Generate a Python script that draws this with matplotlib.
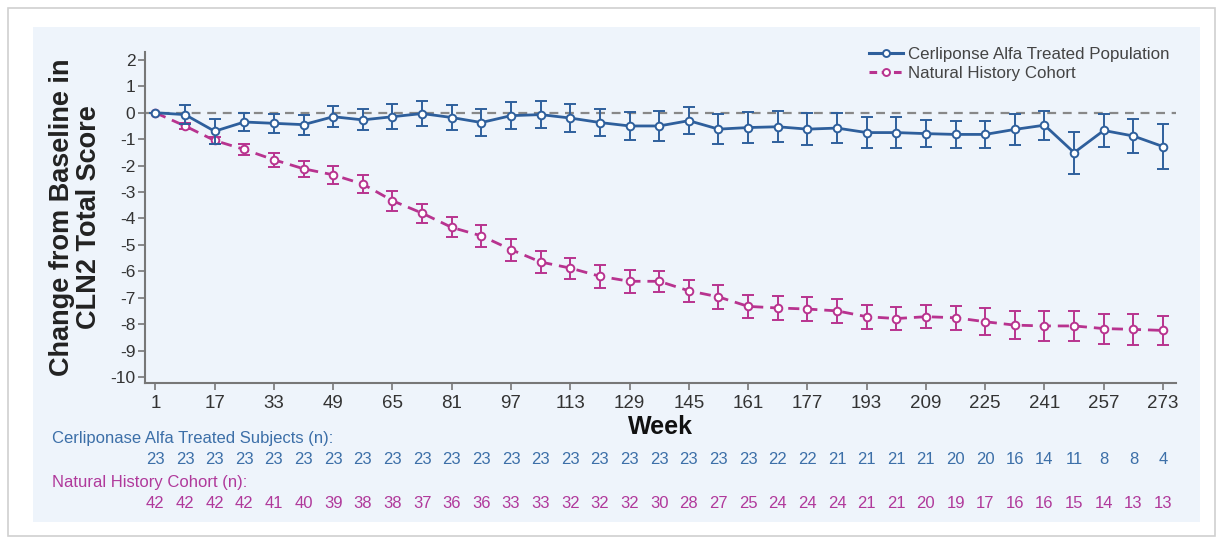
import matplotlib
matplotlib.use("Agg")
import matplotlib.pyplot as plt
from matplotlib.patches import Rectangle
from matplotlib.lines import Line2D
import numpy as np

plt.rcParams["font.family"] = ["Liberation Sans", "DejaVu Sans"]

weeks = list(range(1, 274, 8))

treated_mean = [0.0, -0.07, -0.70, -0.35, -0.40, -0.45, -0.15, -0.27, -0.15, -0.03,
                -0.18, -0.37, -0.11, -0.07, -0.20, -0.37, -0.50, -0.50, -0.30, -0.62,
                -0.56, -0.53, -0.62, -0.58, -0.75, -0.75, -0.79, -0.82, -0.82, -0.63,
                -0.47, -1.51, -0.67, -0.88, -1.28]
treated_err = [0.0, 0.36, 0.47, 0.33, 0.35, 0.38, 0.40, 0.40, 0.48, 0.46,
               0.47, 0.50, 0.50, 0.50, 0.52, 0.50, 0.54, 0.56, 0.50, 0.56,
               0.58, 0.58, 0.60, 0.58, 0.58, 0.58, 0.52, 0.50, 0.50, 0.60,
               0.55, 0.80, 0.63, 0.65, 0.85]

nh_mean = [0.0, -0.50, -1.05, -1.39, -1.78, -2.12, -2.35, -2.70, -3.33, -3.80,
           -4.34, -4.66, -5.18, -5.65, -5.88, -6.19, -6.38, -6.38, -6.74, -6.97,
           -7.33, -7.39, -7.43, -7.50, -7.72, -7.79, -7.72, -7.76, -7.91, -8.04,
           -8.07, -8.07, -8.17, -8.20, -8.24]
nh_err = [0.0, 0.10, 0.15, 0.22, 0.27, 0.30, 0.33, 0.35, 0.38, 0.36,
          0.38, 0.41, 0.42, 0.40, 0.40, 0.44, 0.44, 0.39, 0.42, 0.44,
          0.43, 0.44, 0.44, 0.46, 0.46, 0.44, 0.43, 0.46, 0.52, 0.54,
          0.56, 0.56, 0.57, 0.59, 0.54]

treated_n = [23] * 21 + [22, 22, 21, 21, 21, 21, 20, 20, 16, 14, 11, 8, 8, 4]
nh_n = [42, 42, 42, 42, 41, 40, 39, 38, 38, 37, 36, 36, 33, 33, 32, 32, 32, 30,
        28, 27, 25, 24, 24, 24, 21, 21, 20, 19, 17, 16, 16, 15, 14, 13, 13]

xtick_labels = [str(w) for w in range(1, 274, 16)]
yticks = list(range(2, -11, -1))

blue = "#2e5f9c"
pink = "#b8338f"
blue_txt = "#3c6fa8"
pink_txt = "#b0399b"

W, H = 1228, 540
fig = plt.figure(figsize=(W / 100, H / 100), dpi=100)
fig.patch.set_facecolor("white")

# outer frame and panel background
fig.patches.append(Rectangle((8 / W, 4 / H), 1207 / W, 528 / H, transform=fig.transFigure,
                             facecolor="white", edgecolor="#d0d0d0", lw=1.2, zorder=-20))
fig.patches.append(Rectangle((33 / W, 1 - 522 / H), 1167 / W, 495 / H, transform=fig.transFigure,
                             facecolor="#eef4fb", edgecolor="none", zorder=-10))

ax_l, ax_r, ax_t, ax_b = 145, 1176, 52, 383
ax = fig.add_axes([ax_l / W, 1 - ax_b / H, (ax_r - ax_l) / W, (ax_b - ax_t) / H])
ax.set_facecolor("none")
ax.set_zorder(5)

ax.axhline(0, color="#888888", lw=1.6, ls=(0, (4, 3)), zorder=1)

ax.errorbar(weeks, nh_mean, yerr=nh_err, color=pink, lw=2.0, ls=(0, (4, 2.5)),
            marker="o", ms=5.5, mfc="white", mec=pink, mew=1.4,
            ecolor=pink, elinewidth=1.4, capsize=4, capthick=1.4, zorder=3)
ax.errorbar(weeks, treated_mean, yerr=treated_err, color=blue, lw=2.0, ls="-",
            marker="o", ms=5.5, mfc="white", mec=blue, mew=1.4,
            ecolor=blue, elinewidth=1.4, capsize=4, capthick=1.4, zorder=4)

ax.set_xlim(-1.8, 276.5)
ax.set_ylim(-10.23, 2.3)
ax.set_xticks(list(range(1, 274, 16)))
ax.set_xticklabels(xtick_labels)
ax.set_yticks(yticks)
ax.set_yticklabels([str(v) for v in yticks])

for s in ["top", "right"]:
    ax.spines[s].set_visible(False)
for s in ["left", "bottom"]:
    ax.spines[s].set_color("#777777")
    ax.spines[s].set_linewidth(1.5)
ax.tick_params(axis="both", colors="#777777", width=1.2, length=5, direction="out")
ax.tick_params(axis="x", labelsize=13.5, labelcolor="#333333", pad=4)
ax.tick_params(axis="y", labelsize=12.5, labelcolor="#333333", pad=2)

ax.set_xlabel("Week", fontsize=18, fontweight="bold", color="#111111", labelpad=2)
ax.set_ylabel("Change from Baseline in\nCLN2 Total Score", fontsize=19.5,
              fontweight="bold", color="#222222", labelpad=6, linespacing=1.05)

handles = [
    Line2D([], [], color=blue, lw=2.2, marker="o", ms=5, mfc="white", mec=blue, mew=1.4),
    Line2D([], [], color=pink, lw=2.2, ls=(0, (2.5, 1.5)), marker="o", ms=5, mfc="white",
           mec=pink, mew=1.4),
]
labels = ["Cerliponse Alfa Treated Population", "Natural History Cohort"]
leg = ax.legend(handles, labels, loc="upper left",
                bbox_to_anchor=((862 - ax_l) / (ax_r - ax_l), 1.035),
                frameon=False, fontsize=12.2, handlelength=2.0, handletextpad=0.3,
                labelspacing=0.2, labelcolor="#444444", borderaxespad=0)

# n rows
fig.text(52 / W, 1 - 438 / H, "Cerliponase Alfa Treated Subjects (n):", color=blue_txt,
         fontsize=12, va="center", ha="left")
fig.text(52 / W, 1 - 482 / H, "Natural History Cohort (n):", color=pink_txt,
         fontsize=12, va="center", ha="left")
trans = matplotlib.transforms.blended_transform_factory(ax.transData, fig.transFigure)
for w, a, b in zip(weeks, treated_n, nh_n):
    ax.text(w, 1 - 459 / H, str(a), transform=trans, ha="center", va="center",
            fontsize=12, color=blue_txt, clip_on=False)
    ax.text(w, 1 - 503 / H, str(b), transform=trans, ha="center", va="center",
            fontsize=12, color=pink_txt, clip_on=False)

fig.savefig("out.png", dpi=100, facecolor="white")
